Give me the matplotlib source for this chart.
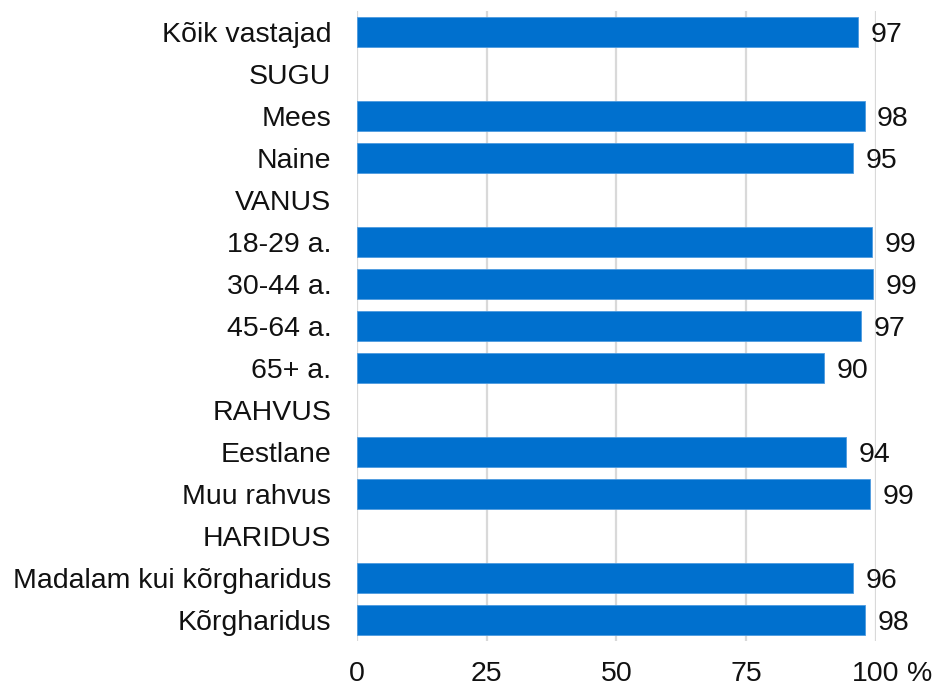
import numpy as np
import matplotlib
matplotlib.use("Agg")
import matplotlib.pyplot as plt

# data (rows top to bottom; section headers have no value)
categories = ["Kõik vastajad", "SUGU", "Mees", "Naine", "VANUS",
              "18-29 a.", "30-44 a.", "45-64 a.", "65+ a.", "RAHVUS",
              "Eestlane", "Muu rahvus", "HARIDUS",
              "Madalam kui kõrgharidus", "Kõrgharidus"]
values = [96.6, None, 97.8, 95.6, None,
          99.2, 99.4, 97.2, 90.0, None,
          94.3, 98.9, None,
          95.6, 97.9]
value_labels = ["97", "", "98", "95", "",
                "99", "99", "97", "90", "",
                "94", "99", "",
                "96", "98"]
xticks = [0, 25, 50, 75, 100]
xtick_labels = ["0", "25", "50", "75", "100"]

plt.rcParams['font.family'] = ['Liberation Sans', 'DejaVu Sans']
fs = 20.5
blue = '#0070CE'

fig = plt.figure(figsize=(9.32, 6.86), dpi=100)
ax = fig.add_axes([0.383, 0.0656, 0.5569, 0.9184])

y = np.arange(len(categories))
for i, v in enumerate(values):
    if v is None:
        continue
    ax.barh(y[i], v, height=0.72, color=blue, edgecolor='#4d9be0', linewidth=0.6, zorder=3)
    ax.annotate(value_labels[i], xy=(v, y[i]), xytext=(9, 0), textcoords='offset points',
                ha='left', va='center_baseline', fontsize=fs, color='#111111')

ax.set_xlim(0, 100)
ax.set_ylim(len(categories) - 0.5, -0.5)
ax.set_yticks(y)
ax.set_yticklabels(categories, fontsize=fs, color='#111111')
ax.set_xticks(xticks)
ax.set_xticklabels(xtick_labels, fontsize=fs, color='#111111')
ax.tick_params(axis='y', length=0, pad=18.5)
ax.tick_params(axis='x', length=0, pad=14.5)
ax.grid(axis='x', color='#d9d9d9', linewidth=1.6, zorder=0)
ax.set_axisbelow(True)
for s in ax.spines.values():
    s.set_visible(False)

# percent sign after the last tick label
ax.annotate("%", xy=(100, 0), xycoords=('data', 'axes fraction'),
            xytext=(22, -14.5), textcoords='offset points',
            ha='left', va='top', fontsize=fs, color='#111111')

fig.savefig("out.png", dpi=100)
